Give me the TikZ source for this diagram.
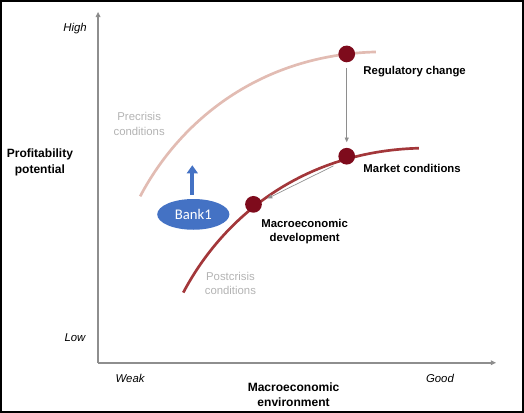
\documentclass[tikz,border=0pt]{standalone}
\usepackage{fontspec}
\setmainfont{Liberation Sans}
\newfontfamily\bankfont{Carlito}
\usepackage{tikz}
\usetikzlibrary{positioning, arrows.meta, shapes.geometric, calc}
\usepackage{xcolor}
\definecolor{Wine}{HTML}{7E0B1C}
\definecolor{Brick}{HTML}{A3373A}
\definecolor{Blush}{HTML}{E2BCB3}
\definecolor{Slate}{HTML}{8E8E8E}
\definecolor{Mist}{HTML}{B3B3B3}
\definecolor{Cobalt}{HTML}{4472C4}

\begin{document}
\begin{tikzpicture}[
    x=0.75pt, y=-0.75pt,
    axis/.style={draw=Slate, line width=1.3pt, -{Triangle[length=4pt, width=3.5pt, fill=black]}},
    dot/.style={circle, fill=Wine, minimum size=12.5pt, inner sep=0pt},
    curvelbl/.style={text=Mist, font=\fontsize{8.5}{11}\selectfont, align=center},
    ptlbl/.style={font=\bfseries\fontsize{8.5}{11}\selectfont, align=center},
    scalelbl/.style={font=\itshape\fontsize{8.5}{11}\selectfont},
    axlbl/.style={font=\bfseries\fontsize{9}{11.5}\selectfont, align=center},
    move/.style={draw=Slate, line width=0.5pt, -{Triangle[length=3.5pt, width=3pt]}},
    every node/.style={font=\fontsize{8.5}{11}\selectfont}
]

% Frame
\draw[line width=1.2pt] (1,1) rectangle (522,411);

% Axes
\coordinate (origin) at (98,362);
\coordinate (ytop) at (98,12);
\coordinate (xend) at (495,362);
\draw[axis] (origin) -- (ytop);
\draw[axis] (origin) -- (xend);

% Axis labels
\node[scalelbl] (high) at (75,29) {High};
\node[scalelbl] (low) at (75,337) {Low};
\node[scalelbl] (weak) at (130,378) {Weak};
\node[scalelbl] (good) at (439,378) {Good};
\node[axlbl] (yname) at (40,162) {Profitability\\potential};
\node[axlbl] (xname) at (293,394) {Macroeconomic\\environment};

% Curves
\draw[Blush, line width=2pt] (140,196) .. controls (180,120) and (260,55) .. (375,52);
\draw[Brick, line width=2pt] (183,292) .. controls (223,216) and (303,151) .. (418,148);
\node[curvelbl] (pre) at (139,124) {Precrisis\\conditions};
\node[curvelbl] (post) at (230,283) {Postcrisis\\conditions};

% Points
\node[dot] (reg) at (346,54) {};
\node[dot] (market) at (346,156) {};
\node[dot] (macro) at (253,204) {};
\node[ptlbl, anchor=west] (reglbl) at (358,72) {Regulatory change};
\node[ptlbl, anchor=west] (marketlbl) at (358,168) {Market conditions};
\node[ptlbl] (macrolbl) at (304,231) {Macroeconomic\\development};

% Moves
\draw[move, shorten <=4pt, shorten >=4pt] (reg) -- (market);
\draw[move, shorten <=6pt, shorten >=5pt] (market.225) -- (macro.20);

% Bank
\node[ellipse, fill=Cobalt, text=white, minimum width=54pt, minimum height=23pt, inner sep=0pt, font=\bankfont\fontsize{11}{13}\selectfont] (bank) at (193,214) {Bank1};
\coordinate (banktip) at (192,165);
\draw[draw=Cobalt, line width=3pt, -{Triangle[length=6pt, width=8pt]}, shorten <=3pt] (bank.north) ++(-1,0) coordinate (bankbase) (bankbase) -- (banktip);

\end{tikzpicture}
\end{document}
